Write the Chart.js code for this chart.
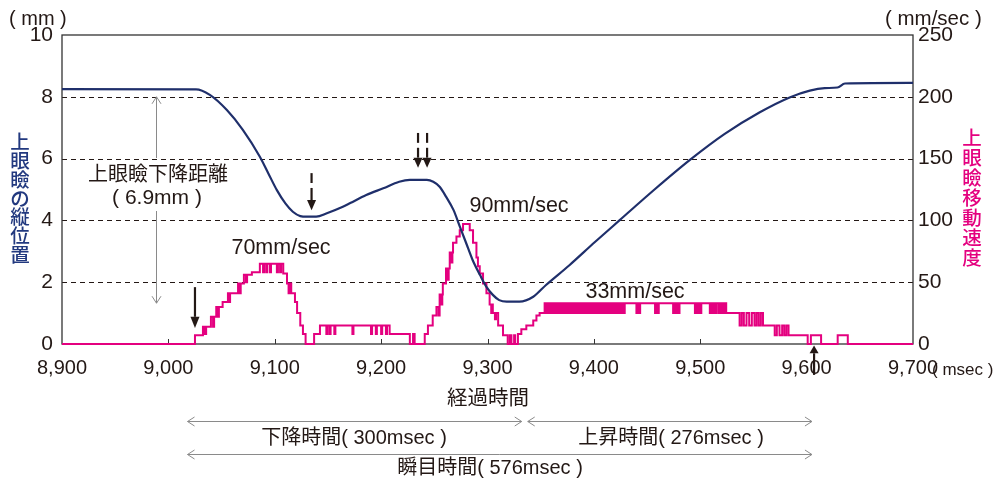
<!DOCTYPE html>
<html>
<head>
<meta charset="utf-8">
<script src="https://cdn.jsdelivr.net/npm/chart.js@4/dist/chart.umd.min.js"></script>
<style>
  html, body { margin: 0; padding: 0; background: #ffffff; }
  #wrap { width: 997px; height: 484px; position: relative; }
</style>
</head>
<body>
<div id="wrap"><canvas id="chart" width="997" height="484"></canvas></div>
<script>
// Elapsed time axis (msec)
const timeRange = [8900, 9700];
const timeStep = 100;
// Left axis: upper eyelid vertical position (mm)
const positionRange = [0, 10];
const positionStep = 2;
// Right axis: upper eyelid speed (mm/sec)
const speedRange = [0, 250];
const speedStep = 50;
const guideLevels = [2, 4, 6, 8];

// Upper eyelid vertical position: [msec, mm]
const eyelidPosition = [
  [8900, 8.25], [9026, 8.24], [9039, 8.06], [9055, 7.57], [9070, 6.93], [9086, 6.06],
  [9094, 5.52], [9102, 4.98], [9110, 4.55], [9117, 4.28], [9124, 4.14], [9130, 4.12],
  [9139, 4.12], [9149, 4.23], [9164, 4.44], [9171, 4.56], [9186, 4.82], [9202, 5.04],
  [9217, 5.25], [9227, 5.31], [9243, 5.31], [9249, 5.25], [9255, 5.09], [9261, 4.77],
  [9268, 4.34], [9274, 3.80], [9280, 3.26], [9286, 2.72], [9293, 2.23], [9299, 1.85],
  [9305, 1.59], [9311, 1.42], [9318, 1.37], [9330, 1.37], [9343, 1.53], [9355, 1.91],
  [9377, 2.55], [9401, 3.30], [9424, 4.00], [9457, 5.00], [9490, 5.95], [9523, 6.80],
  [9556, 7.50], [9584, 7.98], [9603, 8.20], [9617, 8.28], [9629, 8.30], [9636, 8.43],
  [9700, 8.45]
];

// Upper eyelid speed, sampled steps: [msec, mm/sec] (value holds until next entry)
const eyelidSpeed = [
  [8900, 0], [9025, 7], [9032.5, 14], [9034, 8], [9035.5, 14], [9040, 22], [9042, 14],
  [9043, 22], [9045, 30], [9046.5, 22], [9047.5, 30], [9051, 34], [9056, 41], [9057, 34],
  [9058, 41], [9065.5, 49], [9067, 41], [9068, 49], [9071, 56], [9073, 50], [9074, 56],
  [9078.5, 58], [9086, 65], [9089, 58], [9090, 65], [9092, 58], [9093, 65], [9095.5, 58],
  [9096.5, 65], [9102, 58], [9103, 65], [9105, 58], [9106, 65], [9108, 57], [9111.5, 49],
  [9113, 41], [9114.5, 49], [9115.5, 41], [9119, 34], [9121, 25], [9124, 15], [9126.5, 8],
  [9129, 0], [9137, 8], [9142.5, 15],
  [9148.5, 8], [9149.5, 15], [9151.5, 8], [9152.5, 15], [9156, 8], [9157, 15], [9173, 8],
  [9174, 15], [9190.5, 8], [9191.5, 15], [9195, 8], [9196, 15], [9200, 8], [9201, 15],
  [9204.5, 8], [9205.5, 15], [9208, 8], [9227, 0], [9230, 8], [9231.5, 0], [9241, 8],
  [9244, 15], [9248.5, 23], [9252, 30], [9254, 23], [9255, 40], [9256.5, 32], [9257.5, 40],
  [9258, 49], [9261, 61], [9262.5, 52], [9263.5, 61], [9264.5, 74], [9266, 66], [9267, 74],
  [9267.6, 82], [9270.8, 87], [9273.9, 92], [9277, 97], [9283.3, 92], [9286.4, 82],
  [9289.6, 70], [9291, 63], [9292.7, 57], [9295.8, 49], [9299, 41], [9302, 32], [9303.5, 25],
  [9304.5, 32], [9305, 25], [9307, 20], [9308, 25], [9310, 15], [9314.6, 7], [9319, 0],
  [9321, 7], [9322.5, 0], [9325, 7], [9326, 0], [9328.6, 8], [9331.8, 12], [9336.5, 15],
  [9343, 19], [9346, 23], [9349, 25], [9353.7, 33],
  [9355.5, 25], [9356.5, 33], [9358, 25], [9359, 33], [9360.5, 25], [9361.5, 33],
  [9363, 25], [9364, 33], [9365.5, 25], [9366.5, 33], [9368, 25], [9369, 33],
  [9370.5, 25], [9371.5, 33], [9373, 25], [9374, 33], [9375.5, 25], [9376.5, 33],
  [9378, 25], [9379, 33], [9380.5, 25], [9381.5, 33], [9383, 25], [9384, 33],
  [9385.5, 25], [9386.5, 33], [9388, 25], [9389, 33], [9390.5, 25], [9391.5, 33],
  [9393, 25], [9394, 33], [9395.5, 25], [9396.5, 33], [9398, 25], [9399, 33],
  [9400.5, 25], [9401.5, 33], [9403, 25], [9404, 33], [9405.5, 25], [9406.5, 33],
  [9408, 25], [9409, 33], [9410.5, 25], [9411.5, 33], [9413, 25], [9414, 33],
  [9415.5, 25], [9416.5, 33], [9418, 25], [9419, 33], [9420.5, 25], [9421.5, 33],
  [9423, 25], [9424, 33], [9425.5, 25], [9426.5, 33], [9428, 25], [9429, 33],
  [9440, 25], [9441, 33], [9442.5, 25], [9443.5, 33], [9457.5, 25], [9458.5, 33],
  [9460, 25], [9461, 33], [9474.5, 25], [9475.5, 33], [9477, 25], [9478, 33],
  [9479.5, 25], [9480.5, 33], [9495, 25], [9496, 33], [9497.5, 25], [9498.5, 33],
  [9500, 25], [9501, 33], [9509, 25], [9510, 33], [9511.5, 25], [9512.5, 33],
  [9514, 25], [9515, 33], [9517, 25], [9518, 33], [9519.5, 25], [9520.5, 33],
  [9522, 25], [9523, 33], [9524.4, 25],
  [9537, 15], [9539, 25], [9541, 15], [9543.5, 25], [9546, 15], [9548.5, 25], [9551, 15],
  [9553, 25], [9555, 15], [9557, 25], [9559, 15], [9570, 7], [9572, 15], [9574.5, 7],
  [9577, 15], [9579, 7], [9581, 15], [9583, 7], [9601, 0], [9604, 7], [9613.6, 0],
  [9629.2, 7], [9638.7, 0], [9700, 0]
];

// Phase boundaries (msec): blink start, closed, fully open again
const blinkStart = 9018;
const blinkTurn = 9335;
const blinkEnd = 9605;

const INK = '#231815';
const NAVY = '#1f2f6b';
const MAGENTA = '#e4007f';
const GREY = '#8a8a8a';
const LATIN = '"Liberation Sans", Arial, "Noto Sans CJK JP", sans-serif';
const CJK = '"Noto Sans CJK JP", "Liberation Sans", sans-serif';

function seg(ctx, x1, y1, x2, y2) {
  ctx.beginPath(); ctx.moveTo(x1, y1); ctx.lineTo(x2, y2); ctx.stroke();
}

// solid black pointer with filled head; pieces are [y1, y2] pixel spans of the shaft
function pointer(ctx, px, pieces, headBase, tip) {
  ctx.save();
  ctx.strokeStyle = INK; ctx.fillStyle = INK; ctx.lineWidth = 2.2;
  for (const [a, b] of pieces) seg(ctx, px, a, px, b);
  ctx.beginPath();
  ctx.moveTo(px - 4.5, headBase); ctx.lineTo(px + 4.5, headBase); ctx.lineTo(px, tip);
  ctx.closePath(); ctx.fill();
  ctx.restore();
}

function chevron(ctx, x, y, dx, dy) {
  // open arrow head pointing along (dx, dy)
  const len = 7, half = 4.5;
  const nx = -dy, ny = dx;
  ctx.beginPath();
  ctx.moveTo(x - dx * len + nx * half, y - dy * len + ny * half);
  ctx.lineTo(x, y);
  ctx.lineTo(x - dx * len - nx * half, y - dy * len - ny * half);
  ctx.stroke();
}

function spanArrow(ctx, x1, x2, y) {
  ctx.save();
  ctx.strokeStyle = GREY; ctx.lineWidth = 1;
  seg(ctx, x1, y, x2, y);
  chevron(ctx, x1, y, -1, 0);
  chevron(ctx, x2, y, 1, 0);
  ctx.restore();
}

function text(ctx, str, x, y, font, color, align) {
  ctx.font = font; ctx.fillStyle = color;
  ctx.textAlign = align || 'center'; ctx.textBaseline = 'middle';
  ctx.fillText(str, x, y);
}

const overlay = {
  id: 'overlay',
  beforeDatasetsDraw(chart) {
    const { ctx, chartArea: a, scales } = chart;
    const y = scales.y, x = scales.x;
    ctx.save();
    ctx.strokeStyle = INK; ctx.lineWidth = 1; ctx.setLineDash([5, 4]);
    for (const v of guideLevels) {
      const py = Math.round(y.getPixelForValue(v)) + 0.5;
      seg(ctx, a.left, py, a.right, py);
    }
    ctx.setLineDash([]);
    ctx.strokeStyle = '#333333'; ctx.lineWidth = 1.3;
    ctx.strokeRect(a.left, a.top, a.right - a.left, a.bottom - a.top);
    // inward ticks on the time axis
    ctx.lineWidth = 1;
    for (let t = timeRange[0] + timeStep; t < timeRange[1]; t += timeStep) {
      const px = Math.round(x.getPixelForValue(t)) + 0.5;
      seg(ctx, px, a.bottom, px, a.bottom - 5);
    }
    ctx.restore();
  },
  afterDatasetsDraw(chart) {
    const { ctx, scales } = chart;
    const x = scales.x, y = scales.y;
    const X = t => x.getPixelForValue(t);
    const Y = v => y.getPixelForValue(v);
    ctx.save();

    // unit captions
    text(ctx, '( mm )', 9, 19, '20px ' + LATIN, INK, 'left');
    text(ctx, '( mm/sec )', 885, 19, '20.5px ' + LATIN, INK, 'left');
    text(ctx, '( msec )', 932, 370, '17px ' + LATIN, INK, 'left');

    // vertical axis titles
    const leftTitle = '上眼瞼の縦位置';
    [...leftTitle].forEach((ch, i) => text(ctx, ch, 20, 142 + i * 18.7, '500 19.5px ' + CJK, '#22397f'));
    const rightTitle = '上眼瞼移動速度';
    [...rightTitle].forEach((ch, i) => text(ctx, ch, 972, 138 + i * 19.9, '500 19.5px ' + CJK, MAGENTA));

    // lid travel distance
    const gx = Math.round(X(8988.5)) + 0.5;
    ctx.strokeStyle = GREY; ctx.lineWidth = 1;
    const topY = Y(8.0), botY = Y(1.32);
    seg(ctx, gx, topY, gx, 158);
    seg(ctx, gx, 211, gx, botY);
    chevron(ctx, gx, topY, 0, -1);
    chevron(ctx, gx, botY, 0, 1);
    text(ctx, '上眼瞼下降距離', 158, 173, '20px ' + CJK, INK);
    text(ctx, '( 6.9mm )', 157, 198, '21px ' + LATIN, INK);

    // speed peak labels
    text(ctx, '70mm/sec', 281, 248, '21.5px ' + LATIN, INK);
    text(ctx, '90mm/sec', 519, 206, '21.5px ' + LATIN, INK);
    text(ctx, '33mm/sec', 635, 292, '21.5px ' + LATIN, INK);

    // event markers
    pointer(ctx, X(9025), [[Y(1.84), Y(0.88)]], Y(0.88), Y(0.52));
    const p1 = X(9134.6);
    pointer(ctx, p1, [[Y(5.53), Y(5.21)], [Y(5.05), Y(4.66)]], Y(4.66), Y(4.33));
    for (const t of [9234.7, 9243.2]) {
      pointer(ctx, X(t), [[Y(6.83), Y(6.51)], [Y(6.35), Y(6.03)]], Y(6.03), Y(5.70));
    }
    // marker pointing up from below the time axis
    {
      const px = X(9607);
      ctx.save();
      ctx.strokeStyle = INK; ctx.fillStyle = INK; ctx.lineWidth = 2.2;
      seg(ctx, px, Y(-1.0), px, Y(-0.3));
      ctx.beginPath();
      ctx.moveTo(px - 4.5, Y(-0.3)); ctx.lineTo(px + 4.5, Y(-0.3)); ctx.lineTo(px, Y(-0.05));
      ctx.closePath(); ctx.fill();
      ctx.restore();
    }

    // elapsed time caption and phase spans
    text(ctx, '経過時間', 488, 397, '20.5px ' + CJK, INK);
    spanArrow(ctx, X(blinkStart), X(blinkTurn) - 3, 421.5);
    spanArrow(ctx, X(blinkTurn) + 3, X(blinkEnd), 421.5);
    text(ctx, '下降時間( 300msec )', 354, 438, '20px ' + LATIN, INK);
    text(ctx, '上昇時間( 276msec )', 671, 438, '20px ' + LATIN, INK);
    spanArrow(ctx, X(blinkStart), X(blinkEnd), 454.5);
    text(ctx, '瞬目時間( 576msec )', 490, 468, '20px ' + LATIN, INK);

    ctx.restore();
  }
};

const toPoints = rows => rows.map(([t, v]) => ({ x: t, y: v }));

new Chart(document.getElementById('chart'), {
  type: 'line',
  data: {
    datasets: [
      {
        label: '上眼瞼の縦位置',
        data: toPoints(eyelidPosition),
        yAxisID: 'y',
        borderColor: NAVY,
        borderWidth: 2.2,
        pointRadius: 0,
        cubicInterpolationMode: 'monotone',
        order: 0
      },
      {
        label: '上眼瞼移動速度',
        data: toPoints(eyelidSpeed),
        yAxisID: 'y1',
        borderColor: MAGENTA,
        borderWidth: 2,
        pointRadius: 0,
        stepped: true,
        clip: 6,
        order: 1
      }
    ]
  },
  options: {
    responsive: false,
    animation: false,
    events: [],
    layout: { padding: { top: 35, left: 0, right: 0, bottom: 0 } },
    plugins: { legend: { display: false }, tooltip: { enabled: false } },
    scales: {
      x: {
        type: 'linear',
        min: timeRange[0], max: timeRange[1],
        ticks: {
          stepSize: timeStep,
          autoSkip: false, maxRotation: 0,
          padding: 12,
          color: INK,
          font: { family: LATIN, size: 20 },
          callback: v => Number(v).toLocaleString('en-US')
        },
        grid: { display: false, drawTicks: false },
        border: { display: false },
        afterFit: s => { s.height = 140; }
      },
      y: {
        position: 'left',
        min: positionRange[0], max: positionRange[1],
        ticks: { stepSize: positionStep, padding: 9, color: INK, font: { family: LATIN, size: 21 } },
        grid: { display: false, drawTicks: false },
        border: { display: false },
        afterFit: s => { s.width = 62; }
      },
      y1: {
        position: 'right',
        min: speedRange[0], max: speedRange[1],
        ticks: { stepSize: speedStep, padding: 5, color: INK, font: { family: LATIN, size: 21 } },
        grid: { display: false, drawTicks: false },
        border: { display: false },
        afterFit: s => { s.width = 84; }
      }
    }
  },
  plugins: [overlay]
});
</script>
</body>
</html>
